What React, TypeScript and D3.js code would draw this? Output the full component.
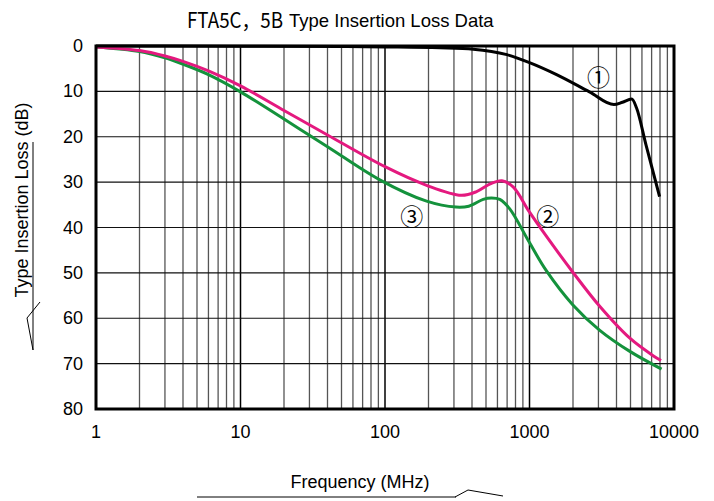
import React from "react";
import * as d3 from "d3";

const freq1 = [1, 10, 50, 100, 240, 408, 697, 990, 1540, 2600, 3840, 4400, 5100, 5500, 6400, 7950];
const loss1 = [0, 0.05, 0.1, 0.2, 0.4, 0.7, 1.9, 3.6, 6.3, 10.1, 12.9, 12.4, 11.7, 13.6, 21.8, 33.2];

const freq2 = [1, 2, 3, 4, 6, 10, 20, 40, 100, 194, 337, 430, 535, 644, 773, 990, 1300, 1990, 3050, 4950, 7210, 8130];
const loss2 = [0.2, 1.0, 2.2, 3.4, 5.5, 8.8, 14.2, 19.6, 26.6, 30.7, 32.9, 32.1, 30.4, 29.7, 31.1, 36.4, 41.8, 49.8, 57.3, 64.4, 68.3, 69.3];

const freq3 = [1, 2, 3, 4, 6, 10, 20, 40, 92, 194, 310, 380, 478, 546, 623, 730, 990, 1300, 1990, 3050, 4950, 8200];
const loss3 = [0.2, 1.2, 2.6, 4.0, 6.3, 10.1, 16.1, 22.2, 29.5, 34.2, 35.5, 35.3, 33.8, 33.5, 33.8, 35.9, 43.1, 49.4, 57.0, 62.6, 67.3, 71.2];

const xTickValues = [1, 10, 100, 1000, 10000];
const xTickLabels = ["1", "10", "100", "1000", "10000"];
const yTickValues = [0, 10, 20, 30, 40, 50, 60, 70, 80];

const curveLabels = ["①", "②", "③"];
const curveLabelFreq = [3000, 1340, 153];
const curveLabelLoss = [6.6, 37.3, 37.3];

const W = 714, H = 501;
const L = 96, R = 674, T = 46, B = 409;
const sans = "'Liberation Sans', Arial, sans-serif";

export default function App() {
  const x = d3.scaleLog().domain([1, 10000]).range([L, R]);
  const y = d3.scaleLinear().domain([0, 80]).range([T, B]);

  const minor: number[] = [];
  [1, 10, 100, 1000].forEach((d) => {
    for (let k = 2; k <= 9; k++) minor.push(d * k);
  });

  const smooth = d3
    .line<[number, number]>()
    .x((p) => x(p[0]))
    .y((p) => y(p[1]))
    .curve(d3.curveCatmullRom.alpha(0.5));
  const mono = d3
    .line<[number, number]>()
    .x((p) => x(p[0]))
    .y((p) => y(p[1]))
    .curve(d3.curveMonotoneX);

  const series = [
    { f: freq1, v: loss1, color: "#000000", gen: mono },
    { f: freq3, v: loss3, color: "#14923c", gen: smooth },
    { f: freq2, v: loss2, color: "#e4197f", gen: smooth },
  ];

  return (
    <svg width={W} height={H} style={{ position: "absolute", left: 0, top: 0, background: "#fff" }}>
      <rect x={0} y={0} width={W} height={H} fill="#fff" />
      {/* title */}
      <text x={187} y={28} fontFamily="'Noto Sans CJK JP', sans-serif" fontSize={21} textLength={96} lengthAdjust="spacingAndGlyphs" fill="#000">
        FTA5C，5B
      </text>
      <text x={289} y={27} fontFamily={sans} fontSize={18.5} fill="#000">
        Type Insertion Loss Data
      </text>

      {/* minor vertical grid */}
      {minor.map((m) => (
        <line key={"m" + m} x1={x(m)} x2={x(m)} y1={T} y2={B} stroke="#555" strokeWidth={1.3} />
      ))}
      {xTickValues.map((v) => (
        <line key={"M" + v} x1={x(v)} x2={x(v)} y1={T} y2={B} stroke="#000" strokeWidth={1.5} />
      ))}
      {yTickValues.map((v) => (
        <line key={"h" + v} x1={L} x2={R} y1={y(v)} y2={y(v)} stroke="#111" strokeWidth={1.2} />
      ))}

      {/* curves */}
      {series.map((s, i) => (
        <path
          key={"s" + i}
          d={s.gen(s.f.map((f, j) => [f, s.v[j]] as [number, number])) || ""}
          fill="none"
          stroke={s.color}
          strokeWidth={3}
          strokeLinejoin="round"
          strokeLinecap="butt"
        />
      ))}

      {/* frame */}
      <rect x={L} y={T} width={R - L} height={B - T} fill="none" stroke="#000" strokeWidth={3} />

      {/* curve labels */}
      {curveLabels.map((c, i) => (
        <text
          key={"c" + i}
          x={x(curveLabelFreq[i])}
          y={y(curveLabelLoss[i])}
          textAnchor="middle"
          dominantBaseline="central"
          fontFamily="'Noto Sans CJK JP', sans-serif"
          fontSize={23}
          fill="#000"
        >
          {c}
        </text>
      ))}

      {/* tick labels */}
      {yTickValues.map((v) => (
        <text key={"yt" + v} x={83} y={y(v)} textAnchor="end" dominantBaseline="central" fontFamily={sans} fontSize={18} fill="#000">
          {v}
        </text>
      ))}
      {xTickValues.map((v, i) => (
        <text key={"xt" + v} x={x(v)} y={432} textAnchor="middle" dominantBaseline="central" fontFamily={sans} fontSize={18} fill="#000">
          {xTickLabels[i]}
        </text>
      ))}

      {/* axis titles */}
      <text x={360} y={482} textAnchor="middle" dominantBaseline="central" fontFamily={sans} fontSize={18} fill="#000">
        Frequency (MHz)
      </text>
      <line x1={197} x2={456} y1={497} y2={497} stroke="#000" strokeWidth={1} />
      <polyline points="455,497 468,490 503,496" fill="none" stroke="#000" strokeWidth={1} />

      <text
        transform="translate(22,200) rotate(-90)"
        textAnchor="middle"
        dominantBaseline="central"
        fontFamily={sans}
        fontSize={18}
        fill="#000"
      >
        Type Insertion Loss (dB)
      </text>
      <line x1={33} x2={33} y1={142} y2={350} stroke="#000" strokeWidth={1} />
      <polyline points="40,302 27,318 33,350" fill="none" stroke="#000" strokeWidth={1} />
    </svg>
  );
}
